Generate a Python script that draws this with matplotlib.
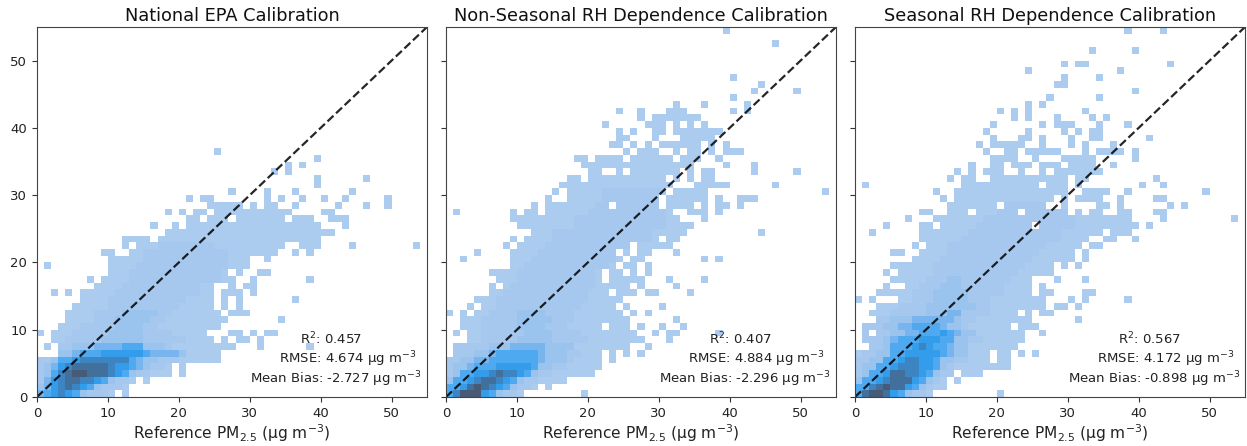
import numpy as np
import matplotlib
matplotlib.use('Agg')
import matplotlib.pyplot as plt
from matplotlib.colors import ListedColormap

titles = ['National EPA Calibration', 'Non-Seasonal RH Dependence Calibration', 'Seasonal RH Dependence Calibration']
r2_vals = ['0.457', '0.407', '0.567']
rmse_vals = ['4.674', '4.884', '4.172']
bias_vals = ['-2.727', '-2.296', '-0.898']
ticks = [0, 10, 20, 30, 40, 50]
n_bins = 55

# occupied bins per row: row -> columns (level 1)
cells_epa = {
    36: "25", 35: "39", 34: "35 37", 33: "33 35", 32: "39 46", 31: "39", 30: "27 32 36 44",
    29: "21 23 24 32 34 37 40 43 49", 28: "24-28 30 32 33 36 42 46 49",
    27: "18 20 22 23 25-35 40 41", 26: "21 22 24-26 28-34 36-38 41-43", 25: "16 19 21-39 43",
    24: "18-41", 23: "12-15 17-39", 22: "12 14-34 37-39 44 53", 21: "9 10 13-33 36 38",
    20: "10-29 32", 19: "1 10-29", 18: "10-26 28 31 32", 17: "7 9-27 30 38",
    16: "8-24 27 29 30", 15: "2 4 6-24 26-28 30", 14: "6-24 26 28 36", 13: "5-24 26 28",
    12: "4-25 27-29", 11: "4-26 34", 10: "3-25", 9: "0 2-23 27 28 30 32 33",
    8: "2-24 26 28 29 31", 7: "1 3-27 31 38", 6: "3-25", 5: "0-25", 4: "0-18 20",
    3: "0-18 20", 2: "0-13 15", 1: "0-12", 0: "0-10 12",
}
cells_nonseasonal = {
    54: "39", 52: "46", 47: "40", 46: "44", 45: "43 49", 44: "40", 43: "32 36 42",
    42: "24 27 31-33 40 42", 41: "27 29-35", 40: "22 28-30 32 34 36", 39: "24 26 29 30 32-38",
    38: "24 25 29 33-37", 37: "23 24 26 28 30-35 37 39", 36: "25 27-29 32 34 35 37 39-41",
    35: "18 19 21-24 26-31 33-35 38", 34: "19-34 39 43", 33: "20 21 24 26-32 34 36 37 43 49",
    32: "17 18 20-30 32 34 36 37", 31: "16-31 35-39 46", 30: "15 17-30 32-36 53",
    29: "14 17-29 31-36 38 41-43", 28: "12 14-22 24-29 31-34 36 38 39 41",
    27: "1 9 11 12 14-31 34-36 38", 26: "9-32 36", 25: "10-34", 24: "12-33 44",
    23: "9 11-29 31 32", 22: "8 10-25 27-31", 21: "4 9-23 25 27 28 32", 20: "2 9-24 26 27 36 38",
    19: "9-23 25 26 28", 18: "6-21 23 24 26 28", 17: "7-21 23-27 31 36", 16: "6 8-25 27 32",
    15: "6-22 24-26 28 29 34", 14: "4-24", 13: "3 5-23 25 30", 12: "0 2 4-24 26 28",
    11: "2-25 32", 10: "2-21 23-25 27 30 33", 9: "1 3-26 29 31 32 38", 8: "3-27 31",
    7: "1-25 28", 6: "1-21 23 25 27", 5: "0-21 23", 4: "0-21", 3: "0-20", 2: "0-16",
    1: "0-12 14", 0: "0-10 19",
}
cells_seasonal = {
    54: "38 43", 51: "33 39", 49: "29 31 32 44", 48: "24 37", 47: "29 34", 46: "28 29",
    45: "39", 44: "27 34", 43: "24 26", 42: "20 22 24 32", 41: "22 24 28 33 35",
    40: "19 26 28-30 34 38", 39: "18 24 29 31 33 34", 38: "19 23 24 26 30 33 34 41",
    37: "17 19-23 26 30 32 36", 36: "18 21 22 24-28 32 34-37 39", 35: "19-22 25 29-33 39",
    34: "16 19 20 22-24 26-28 30-33 36", 33: "14 16 18-20 23 26 28-34", 32: "13 15 16 19-29 31 32 42",
    31: "1 15-25 27-29 31 40 43", 30: "11 14-29 32-35 38 49", 29: "12 14-27 29 31-34 37 42 43",
    28: "13-19 21-26 29 34 35 37 44 46", 27: "9 10 13-15 17-22 24-29 31 33 34 37 38 42 43",
    26: "7 11-38 43 53", 25: "4 9 10 12-24 26-39 41", 24: "2 9-34 36-38", 23: "9-32 35 36 39",
    22: "8 10-31 33 34", 21: "5 6 9-30 32", 20: "8-30 32", 19: "5-27 29 31", 18: "4 6-27",
    17: "5-24 28 32", 16: "4 7-24 26", 15: "3-24 26 27 32 33", 14: "0 2 6-26 30 32 38",
    13: "3-26 28 29 31", 12: "2-22 24 26 27", 11: "3-24 31", 10: "1-21 23-25", 9: "1 3-23 26",
    8: "1-23", 7: "2-22", 6: "0-18 20 21 23 25", 5: "0-18 20 21", 4: "0-21", 3: "0-13 15-17",
    2: "0-12 14", 1: "0-12", 0: "0-10 20",
}

# darker bins: row -> "columns:level"
mid_epa = {
    22: "17-24:2", 21: "15-26:2", 20: "15-26:2", 19: "14-26:2", 18: "13-25:2", 17: "13-25:2",
    16: "12-22:2", 15: "11-22:2", 14: "10-20:2", 13: "10-19:2", 12: "8-18:2 12-16:3",
    11: "8-17:2 11-15:3", 10: "6-16:2 11-14:3", 9: "5-18:2 10-14:3", 8: "4-20:2 9-14:3",
}
mid_nonseasonal = {
    30: "22-30:2", 29: "22-30:2", 28: "21-29:2", 27: "20-30:2", 26: "18-30:2", 25: "18-30:2",
    24: "15-28:2", 23: "15-28:2", 22: "14-26:2", 21: "13-24:2", 20: "12-23:2", 19: "11-22:2",
    18: "10-20:2", 17: "10-20:2", 16: "9-20:2", 15: "8-19:2", 14: "7-19:2", 13: "7-18:2",
    12: "6-17:2 10-13:3", 11: "5-17:2 10-14:3", 10: "5-16:2 10-13:3", 9: "5-18:2 11-14:3",
    8: "5-19:2 10-14:3",
}
mid_seasonal = {
    28: "20-26:2", 27: "20-29:2", 26: "18-30:2", 25: "17-30:2", 24: "16-28:2", 23: "15-28:2",
    22: "13-26:2", 21: "13-25:2", 20: "12-24:2", 19: "11-23:2", 18: "11-22:2", 17: "10-21:2 13-14:3",
    16: "9-20:2 12-14:3", 15: "8-20:2 11-15:3", 14: "8-18:2 11-15:3", 13: "6-18:2 10-16:3",
    12: "5-18:2 10-14:3 13-14:4",
}

# densest bins, one digit per column starting at column 0
core_epa = {
    0: "45676532221", 1: "3467876532221", 2: "2467887765322",
    3: "2357899888765322", 4: "23467888887665432211", 5: "22355677777775433222",
    6: "...334555666666544443", 7: "...2233344445553332",
}
core_nonseasonal = {
    0: "57999653221", 1: "55689876532211", 2: "355678876532211",
    3: "2355667877653221", 4: "23345556666653322", 5: "223344555555543332",
    6: ".222334555555433322", 7: ".22222333444443333",
}
core_seasonal = {
    0: "58998653221", 1: "55789886532", 2: "3556788865321",
    3: "23556887765322", 4: "233556777665321", 5: "2233556776653322",
    6: "1223355666665433", 7: "..22355567655433", 8: ".22234555666553322",
    9: ".2.22334455565433", 10: ".222334455554332", 11: "...22333444444322",
}

levels_colors = ['#ABCBEF', '#A6C8EE', '#9AC3EE', '#78B5EE', '#4EA9F0', '#339CEB', '#3C84C2', '#40709B', '#475B76']


def make_grid(cells, mid, core):
    grid = np.zeros((n_bins, n_bins))
    for row, text in cells.items():
        for tok in text.split():
            a, _, b = tok.partition('-')
            grid[row, int(a):int(b or a) + 1] = 1
    for row, text in mid.items():
        for tok in text.split():
            span, lev = tok.split(':')
            a, _, b = span.partition('-')
            sel = np.arange(int(a), int(b or a) + 1)
            sel = sel[grid[row, sel] > 0]
            grid[row, sel] = int(lev)
    for row, text in core.items():
        for col, ch in enumerate(text):
            if ch.isdigit() and grid[row, col] > 0:
                grid[row, col] = int(ch)
    return np.ma.masked_equal(grid, 0)


grids = [make_grid(cells_epa, mid_epa, core_epa),
         make_grid(cells_nonseasonal, mid_nonseasonal, core_nonseasonal),
         make_grid(cells_seasonal, mid_seasonal, core_seasonal)]

cmap = ListedColormap(levels_colors)
edges = np.arange(n_bins + 1)

fig = plt.figure(figsize=(12.47, 4.46), dpi=100)
lefts = [37, 446, 855]
for i in range(3):
    ax = fig.add_axes([lefts[i] / 1247, 1 - 397 / 446, 390 / 1247, 370 / 446])
    ax.pcolormesh(edges, edges, grids[i], cmap=cmap, vmin=0.5, vmax=9.5)
    ax.plot([0, n_bins], [0, n_bins], color='k', linestyle='--', linewidth=1.6, alpha=0.85)
    ax.set_xlim(0, n_bins)
    ax.set_ylim(0, n_bins)
    ax.set_xticks(ticks)
    ax.set_yticks(ticks)
    ax.tick_params(labelsize=9.5, length=3.5, color='#333333', labelcolor='#222222')
    if i > 0:
        ax.set_yticklabels([])
    for sp in ax.spines.values():
        sp.set_color('#444444')
    ax.set_title(titles[i], fontsize=12.8, color='#111111', pad=4.5)
    ax.set_xlabel(r'Reference PM$_{2.5}$ ($\mathrm{\mu}$g m$^{-3}$)', fontsize=11.1, color='#222222', labelpad=2)
    ax.text(0.674, 0.157, 'R$^2$: ' + r2_vals[i], transform=ax.transAxes, fontsize=9.5, va='center', color='#222222')
    ax.text(0.621, 0.103, 'RMSE: ' + rmse_vals[i] + r' $\mathrm{\mu}$g m$^{-3}$', transform=ax.transAxes, fontsize=9.5, va='center', color='#222222')
    ax.text(0.546, 0.049, 'Mean Bias: ' + bias_vals[i] + r' $\mathrm{\mu}$g m$^{-3}$', transform=ax.transAxes, fontsize=9.5, va='center', color='#222222')

fig.savefig('out.png', dpi=100)
